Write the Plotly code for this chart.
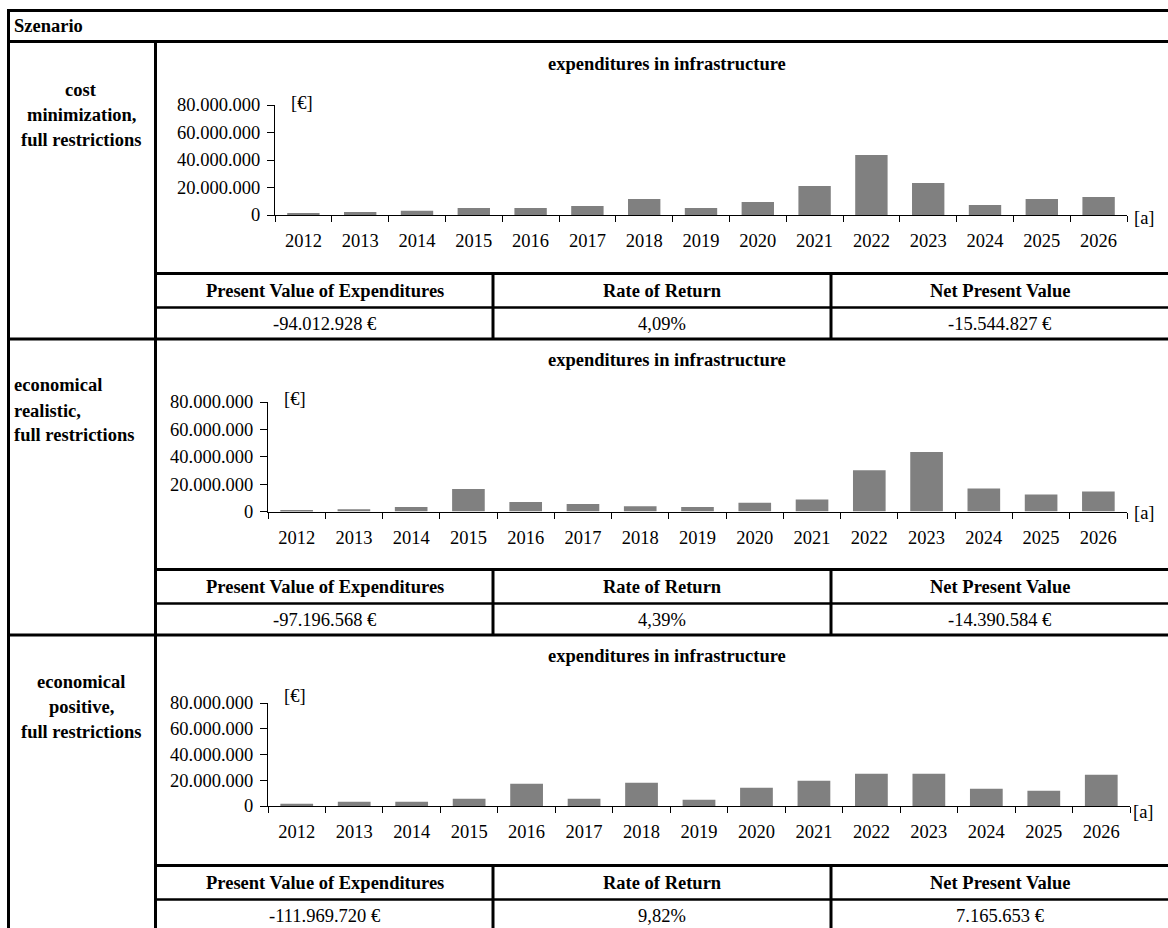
import plotly.graph_objects as go

W, H = 1168, 928
FONT = "Liberation Serif, Times New Roman, serif"
FS = 18.5

# ---- data -------------------------------------------------------------
years = ["2012", "2013", "2014", "2015", "2016", "2017", "2018", "2019",
         "2020", "2021", "2022", "2023", "2024", "2025", "2026"]

# yearly expenditures in infrastructure [€]
exp_cost_minimization = [1_500_000, 2_200_000, 3_100_000, 5_100_000, 5_100_000,
                         6_500_000, 11_600_000, 5_100_000, 9_500_000, 21_100_000,
                         43_600_000, 23_300_000, 7_300_000, 11_600_000, 13_100_000]
exp_economical_realistic = [1_000_000, 1_700_000, 3_200_000, 16_500_000, 6_900_000,
                            5_400_000, 3_900_000, 3_200_000, 6_400_000, 8_700_000,
                            30_100_000, 43_500_000, 16_800_000, 12_400_000, 14_600_000]
exp_economical_positive = [1_800_000, 3_300_000, 3_300_000, 5_700_000, 17_300_000,
                           5_700_000, 18_100_000, 4_900_000, 14_200_000, 19_600_000,
                           25_000_000, 25_000_000, 13_400_000, 11_900_000, 24_300_000]

y_tickvals = [0, 20_000_000, 40_000_000, 60_000_000, 80_000_000]
y_ticktext = ["0", "20.000.000", "40.000.000", "60.000.000", "80.000.000"]

scenario_labels = [
    ["cost", "minimization,", "full restrictions"],
    ["economical", "realistic,", "full restrictions"],
    ["economical", "positive,", "full restrictions"],
]
table_headers = ["Present Value of Expenditures", "Rate of Return", "Net Present Value"]
present_value_expenditures = ["-94.012.928 €", "-97.196.568 €", "-111.969.720 €"]
rate_of_return = ["4,09%", "4,39%", "9,82%"]
net_present_value = ["-15.544.827 €", "-14.390.584 €", "7.165.653 €"]

chart_title = "expenditures in infrastructure"


# ---- helpers: pixel -> paper coordinates ------------------------------
def px(x):
    return x / W


def py(y):
    return 1 - y / H


def text_font(size=FS):
    return dict(family=FONT, size=size, color="black")


series = [exp_cost_minimization, exp_economical_realistic, exp_economical_positive]

# plot-area geometry of each chart (pixels): left, right, top (80 Mio.), bottom (0)
chart_boxes = [
    dict(x0=275, x1=1127, top=105, bottom=215, title=64, eur=(302, 103), a=(1144, 218)),
    dict(x0=268, x1=1127, top=402, bottom=511.5, title=360, eur=(295, 399), a=(1144, 513)),
    dict(x0=268, x1=1130, top=703, bottom=806, title=656, eur=(295, 696), a=(1143, 812)),
]

label_layout = [
    dict(x=81, align="center", ys=[90, 115, 140]),
    dict(x=12, align="left", ys=[385, 411, 435]),
    dict(x=81, align="center", ys=[682, 707, 732]),
]

fig = go.Figure()
annotations = []
shapes = []

for i, (vals, box) in enumerate(zip(series, chart_boxes), start=1):
    suffix = "" if i == 1 else str(i)
    fig.add_trace(go.Bar(
        x=years, y=vals,
        marker=dict(color="#808080", line=dict(width=0)),
        xaxis="x" + suffix, yaxis="y" + suffix,
        showlegend=False, hoverinfo="x+y",
    ))
    fig.layout["xaxis" + suffix] = dict(
        domain=[px(box["x0"]), px(box["x1"])],
        anchor="y" + suffix, automargin=False,
        type="category", range=[-0.5, 14.5],
        tickson="boundaries", ticks="outside", ticklen=6, tickwidth=1,
        tickcolor="black", showline=True, linecolor="black", linewidth=1,
        showgrid=False, zeroline=False, tickfont=text_font(),
        ticklabelstandoff=9, fixedrange=True,
    )
    fig.layout["yaxis" + suffix] = dict(
        domain=[py(box["bottom"]), py(box["top"])],
        anchor="x" + suffix, automargin=False,
        range=[0, 80_000_000], tickvals=y_tickvals, ticktext=y_ticktext,
        ticks="outside", ticklen=7, tickwidth=1, tickcolor="black",
        showline=True, linecolor="black", linewidth=1,
        showgrid=False, zeroline=False, tickfont=text_font(),
        ticklabelstandoff=3, fixedrange=True,
    )
    # chart title and unit labels
    annotations.append(dict(
        text="<b>" + chart_title + "</b>", x=px(667), y=py(box["title"]),
        xref="paper", yref="paper", xanchor="center", yanchor="middle",
        showarrow=False, font=text_font(),
    ))
    annotations.append(dict(
        text="[€]", x=px(box["eur"][0]), y=py(box["eur"][1]),
        xref="paper", yref="paper", xanchor="center", yanchor="middle",
        showarrow=False, font=text_font(),
    ))
    annotations.append(dict(
        text="[a]", x=px(box["a"][0]), y=py(box["a"][1]),
        xref="paper", yref="paper", xanchor="center", yanchor="middle",
        showarrow=False, font=text_font(),
    ))

# scenario names in the first column
for lines, lay in zip(scenario_labels, label_layout):
    for txt, yy in zip(lines, lay["ys"]):
        annotations.append(dict(
            text="<b>" + txt + "</b>", x=px(lay["x"]), y=py(yy),
            xref="paper", yref="paper",
            xanchor="center" if lay["align"] == "center" else "left",
            yanchor="middle", showarrow=False, font=text_font(),
        ))

# header cell
annotations.append(dict(
    text="<b>Szenario</b>", x=px(12), y=py(26), xref="paper", yref="paper",
    xanchor="left", yanchor="middle", showarrow=False, font=text_font(),
))

# key-figure tables below each chart
col_edges = [157, 493, 831, 1168]
col_centers = [(a + b) / 2 for a, b in zip(col_edges[:-1], col_edges[1:])]
for s in range(3):
    off = 296 * s
    values = [present_value_expenditures[s], rate_of_return[s], net_present_value[s]]
    for c in range(3):
        annotations.append(dict(
            text="<b>" + table_headers[c] + "</b>", x=px(col_centers[c]), y=py(291 + off),
            xref="paper", yref="paper", xanchor="center", yanchor="middle",
            showarrow=False, font=text_font(),
        ))
        annotations.append(dict(
            text=values[c], x=px(col_centers[c]), y=py(324 + off),
            xref="paper", yref="paper", xanchor="center", yanchor="middle",
            showarrow=False, font=text_font(),
        ))
    # horizontal rules of the table
    shapes.append(dict(type="line", x0=px(155), x1=1, y0=py(273.5 + off), y1=py(273.5 + off),
                       xref="paper", yref="paper", line=dict(color="black", width=3)))
    shapes.append(dict(type="line", x0=px(155), x1=1, y0=py(307.5 + off), y1=py(307.5 + off),
                       xref="paper", yref="paper", line=dict(color="black", width=2.5)))
    if s < 2:
        shapes.append(dict(type="line", x0=px(7), x1=1, y0=py(339 + off), y1=py(339 + off),
                           xref="paper", yref="paper", line=dict(color="black", width=3)))
    # column dividers
    for xe in col_edges[1:3]:
        shapes.append(dict(type="line", x0=px(xe), x1=px(xe),
                           y0=py(273.5 + off), y1=py(min(339 + off, H)),
                           xref="paper", yref="paper", line=dict(color="black", width=3)))

# outer frame and main dividers
shapes += [
    dict(type="line", x0=px(7), x1=1, y0=py(10.5), y1=py(10.5),
         xref="paper", yref="paper", line=dict(color="black", width=3)),
    dict(type="line", x0=px(7), x1=1, y0=py(41.5), y1=py(41.5),
         xref="paper", yref="paper", line=dict(color="black", width=3)),
    dict(type="line", x0=px(8.5), x1=px(8.5), y0=py(9), y1=0,
         xref="paper", yref="paper", line=dict(color="black", width=3)),
    dict(type="line", x0=px(155.5), x1=px(155.5), y0=py(41), y1=0,
         xref="paper", yref="paper", line=dict(color="black", width=3)),
]

fig.update_layout(
    width=W, height=H,
    margin=dict(l=0, r=0, t=0, b=0, pad=0, autoexpand=False),
    paper_bgcolor="white", plot_bgcolor="white",
    bargap=0.43,
    font=text_font(),
    annotations=annotations,
    shapes=shapes,
    showlegend=False,
)

fig.write_html("out.html")
